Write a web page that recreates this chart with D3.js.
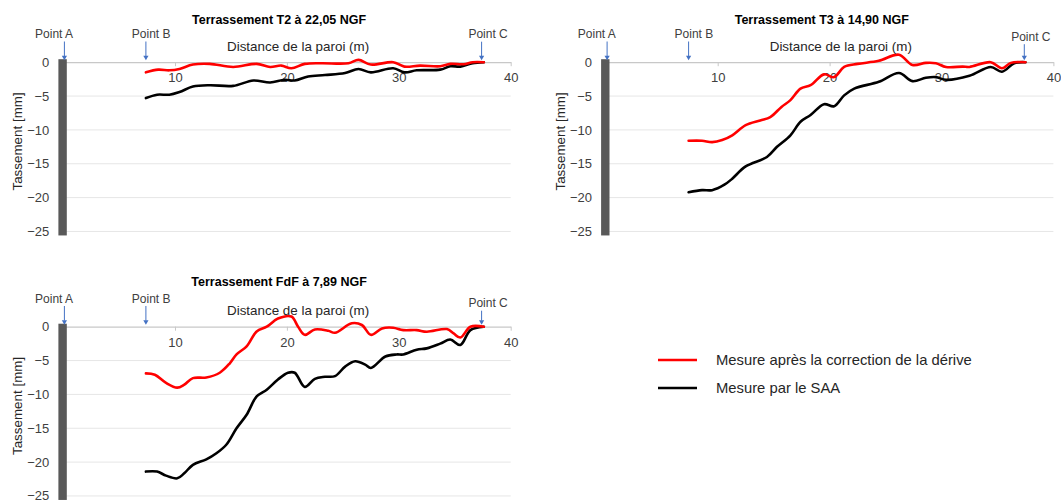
<!DOCTYPE html>
<html>
<head>
<meta charset="utf-8">
<script src="https://cdn.jsdelivr.net/npm/d3@7"></script>
<style>
  html, body { margin: 0; padding: 0; background: #ffffff; }
  svg { display: block; font-family: "Liberation Sans", Arial, sans-serif; }
</style>
</head>
<body>
<svg id="chart" width="1061" height="502"></svg>
<script>
// ---------- DATA ----------
const xTicks = [10, 20, 30, 40];
const yTicks = [0, -5, -10, -15, -20, -25];
const seriesNames = ["Mesure après la correction de la dérive", "Mesure par le SAA"];
const chartTitles = ["Terrassement T2 à 22,05 NGF", "Terrassement T3 à 14,90 NGF", "Terrassement FdF à 7,89 NGF"];
const xAxisTitle = "Distance de la paroi (m)";
const yAxisTitle = "Tassement [mm]";
const pointLabels = ["Point A", "Point B", "Point C"];
const pointDistances = [0, 7.4, 37.4];

// T2 à 22,05 NGF
const t2DistRed = [7.4, 8.5, 9.5, 10.4, 11.6, 13.1, 15.2, 17.3, 18.5, 19.5, 20.4, 21.6, 23.1, 25.5, 26.4, 27.5, 29.5, 30.5, 31.9, 33.7, 34.6, 35.8, 36.6, 37.6];
const t2Corrected = [-1.5, -1.1, -1.2, -1.0, -0.35, -0.25, -0.7, -0.25, -0.7, -0.5, -0.9, -0.25, -0.15, -0.15, 0.35, -0.35, 0, -0.65, -0.5, -0.6, -0.25, -0.3, 0, 0];
const t2DistBlack = [7.4, 8.4, 9.5, 10.4, 11.6, 13.1, 15.2, 17.0, 18.5, 19.8, 20.7, 21.9, 23.4, 25.2, 26.4, 27.5, 29.5, 30.5, 31.6, 33.7, 34.6, 35.5, 36.6, 37.6];
const t2SAA = [-5.3, -4.8, -4.8, -4.4, -3.6, -3.4, -3.5, -2.7, -3.0, -2.6, -2.7, -2.1, -1.9, -1.6, -1.0, -1.5, -0.9, -1.5, -1.2, -1.1, -0.6, -0.65, -0.15, 0];

// T3 à 14,90 NGF
const t3DistRed = [7.4, 8.6, 9.5, 10.4, 11.3, 12.5, 13.8, 14.7, 15.7, 16.5, 17.4, 18.3, 19.5, 20.4, 21.3, 22.5, 24.4, 26.2, 27.4, 28.6, 29.5, 30.4, 31.9, 32.5, 34.4, 35.4, 36.2, 37.5];
const t3Corrected = [-11.6, -11.6, -11.8, -11.5, -10.8, -9.3, -8.6, -8.1, -6.6, -5.6, -3.9, -3.4, -1.8, -2.2, -0.7, -0.25, 0.2, 1.1, -0.4, -0.1, -0.15, -0.7, -0.65, -0.7, 0, -0.9, -0.1, 0];
const t3DistBlack = [7.4, 8.6, 9.5, 10.6, 11.3, 12.5, 14.4, 15.3, 16.5, 17.4, 18.3, 19.5, 20.4, 21.3, 22.2, 24.4, 26.2, 27.4, 28.6, 29.5, 30.4, 32.5, 34.4, 35.4, 36.5, 37.5];
const t3SAA = [-19.2, -18.9, -18.9, -18.1, -17.2, -15.4, -14.0, -12.5, -10.8, -8.8, -7.8, -6.2, -6.5, -4.9, -3.9, -2.9, -1.6, -2.8, -2.3, -2.2, -2.6, -2.0, -0.7, -1.4, -0.15, 0];

// FdF à 7,89 NGF
const fdfDistRed = [7.4, 8.2, 9.2, 10.2, 10.8, 11.6, 12.8, 14.0, 14.9, 15.5, 16.4, 17.3, 18.2, 19.2, 20.4, 21.0, 21.6, 22.5, 23.7, 24.3, 25.8, 26.7, 27.5, 28.5, 29.5, 30.4, 31.6, 32.5, 34.3, 34.9, 35.5, 36.4, 37.6];
const fdfCorrected = [-6.9, -7.1, -8.3, -9.0, -8.6, -7.6, -7.5, -6.8, -5.4, -4.1, -2.9, -0.7, 0, 1.2, 1.5, 0, -1.2, -0.4, -0.6, -0.9, 0.5, 0.25, -1.2, -0.25, -0.15, -0.5, -0.5, -0.75, -0.35, -1.0, -1.6, 0, 0];
const fdfDistBlack = [7.4, 8.4, 9.2, 10.2, 10.8, 11.6, 12.8, 13.7, 14.6, 15.5, 16.4, 17.3, 18.2, 19.2, 20.1, 20.7, 21.6, 22.5, 23.4, 24.3, 25.2, 26.1, 27.0, 27.5, 28.8, 29.8, 30.4, 31.6, 32.5, 33.7, 34.6, 35.5, 36.4, 37.6];
const fdfSAA = [-21.4, -21.4, -22.0, -22.4, -21.7, -20.4, -19.6, -18.7, -17.4, -15.0, -13.0, -10.3, -9.3, -7.8, -6.8, -6.8, -8.9, -7.7, -7.4, -7.3, -5.9, -5.1, -5.6, -6.1, -4.4, -4.1, -4.1, -3.4, -3.2, -2.5, -1.9, -2.7, -0.5, 0];

// ---------- LAYOUT ----------
const svg = d3.select("#chart");
const panels = [
  { x0: 63.1, y0: 62.2, title: chartTitles[0], redX: t2DistRed, red: t2Corrected, blackX: t2DistBlack, black: t2SAA,
    titleDy: -42, pcDy: -28 },
  { x0: 605.8, y0: 62.2, title: chartTitles[1], redX: t3DistRed, red: t3Corrected, blackX: t3DistBlack, black: t3SAA,
    titleDy: -42, pcDy: -25.5 },
  { x0: 63.1, y0: 326.7, title: chartTitles[2], redX: fdfDistRed, red: fdfCorrected, blackX: fdfDistBlack, black: fdfSAA,
    titleDy: -44.5, pcDy: -23.5 }
];
const pxPerM = 11.19, pxPerMm = 6.77;
const RED = "#ff0000", BLACK = "#000000", BLUE = "#4472C4", TXT = "#404040";
const H = 502;

panels.forEach(p => {
  const x = d3.scaleLinear().domain([0, 40]).range([p.x0, p.x0 + 40 * pxPerM]);
  const y = d3.scaleLinear().domain([-25, 0]).range([p.y0 + 25 * pxPerMm, p.y0]);
  const g = svg.append("g");

  // horizontal gridlines
  g.append("g").selectAll("line").data(yTicks.filter(t => t !== 0)).join("line")
    .attr("x1", x(0)).attr("x2", x(40))
    .attr("y1", d => y(d)).attr("y2", d => y(d))
    .attr("stroke", "#e6e6e6").attr("stroke-width", 1);

  // x axis at y = 0 (ticks downward, labels below)
  const xAxis = d3.axisBottom(x).tickValues(xTicks).tickSize(4).tickSizeOuter(0).tickPadding(7);
  const xa = g.append("g").attr("transform", `translate(0,${y(0)})`).call(xAxis);
  xa.select(".domain").attr("stroke", "#c8c8c8").attr("stroke-width", 1.2);
  xa.selectAll(".tick line").attr("stroke", "#c8c8c8");
  xa.selectAll(".tick text").attr("fill", TXT).style("font-size", "13px")
    .style("font-family", '"Liberation Sans", Arial, sans-serif');

  // y axis labels
  const yAxis = d3.axisLeft(y).tickValues(yTicks).tickSize(0).tickPadding(13.8).tickFormat(d3.format("d"));
  const ya = g.append("g").attr("transform", `translate(${x(0)},0)`).call(yAxis);
  ya.select(".domain").remove();
  ya.selectAll(".tick text").attr("fill", TXT).style("font-size", "13px")
    .style("font-family", '"Liberation Sans", Arial, sans-serif')
    .each(function(d) {
      // keep the lowest label inside the picture
      const overflow = y(d) + 7 - H;
      if (overflow > 0) d3.select(this).attr("dy", (0.32 - overflow / 13).toFixed(2) + "em");
    });

  // wall bar (paroi)
  g.append("rect")
    .attr("x", x(0) - 4.7).attr("width", 8.4)
    .attr("y", y(0) - 3).attr("height", y(-25) - y(0) + 7)
    .attr("fill", "#595959");

  // lines
  const line = d3.line().x(d => x(d[0])).y(d => y(d[1])).curve(d3.curveCatmullRom.alpha(0.5));
  g.append("path").datum(d3.zip(p.blackX, p.black)).attr("d", line)
    .attr("fill", "none").attr("stroke", BLACK).attr("stroke-width", 2.6).attr("stroke-linejoin", "round").attr("stroke-linecap", "round");
  g.append("path").datum(d3.zip(p.redX, p.red)).attr("d", line)
    .attr("fill", "none").attr("stroke", RED).attr("stroke-width", 2.6).attr("stroke-linejoin", "round").attr("stroke-linecap", "round");

  // title
  g.append("text").attr("x", x(0) + 216).attr("y", y(0) + p.titleDy)
    .attr("text-anchor", "middle").attr("dominant-baseline", "central")
    .style("font-size", "12.5px").style("font-weight", "bold").attr("fill", "#000")
    .text(p.title);

  // x axis title
  g.append("text").attr("x", x(0) + 235).attr("y", y(0) - 15.8)
    .attr("text-anchor", "middle").attr("dominant-baseline", "central")
    .style("font-size", "13.4px").attr("fill", "#262626")
    .text(xAxisTitle);

  // y axis title
  g.append("text")
    .attr("transform", `translate(${x(0) - 45.5},${y(-11.7)}) rotate(-90)`)
    .attr("text-anchor", "middle").attr("dominant-baseline", "central")
    .style("font-size", "13.4px").attr("fill", "#262626")
    .text(yAxisTitle);

  // point markers
  const labelOffsets = [-10.3, 5.3, 6.5];
  pointDistances.forEach((d, i) => {
    const px = x(d) + (i === 0 ? 1.3 : 0);
    const dy = i === 2 ? p.pcDy : -28.2;
    g.append("line").attr("x1", px).attr("x2", px)
      .attr("y1", y(0) + dy + 7.5).attr("y2", y(0) - 6)
      .attr("stroke", BLUE).attr("stroke-width", 1);
    g.append("path")
      .attr("d", `M${px - 2.6},${y(0) - 6.5} L${px + 2.6},${y(0) - 6.5} L${px},${y(0) - 2} Z`)
      .attr("fill", BLUE);
    g.append("text").attr("x", px + labelOffsets[i]).attr("y", y(0) + dy)
      .attr("text-anchor", "middle").attr("dominant-baseline", "central")
      .style("font-size", "12px").attr("fill", TXT)
      .text(pointLabels[i]);
  });
});

// ---------- LEGEND ----------
const legend = svg.append("g");
const legendColors = [RED, BLACK];
seriesNames.forEach((name, i) => {
  const ly = 360 + i * 28;
  legend.append("line").attr("x1", 658).attr("x2", 697).attr("y1", ly).attr("y2", ly)
    .attr("stroke", legendColors[i]).attr("stroke-width", 2.6);
  legend.append("text").attr("x", 716).attr("y", ly)
    .attr("dominant-baseline", "central")
    .style("font-size", "14.8px").attr("fill", "#262626")
    .text(name);
});
</script>
</body>
</html>
